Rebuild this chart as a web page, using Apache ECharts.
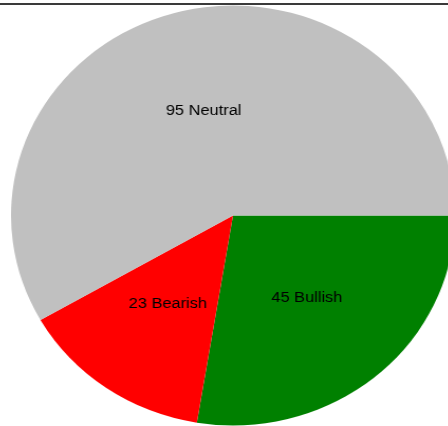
<!DOCTYPE html>
<html>
<head>
<meta charset="utf-8">
<script src="https://cdn.jsdelivr.net/npm/echarts@6/dist/echarts.min.js"></script>
<style>
html,body{margin:0;padding:0;background:#fff;overflow:hidden;}
#wrap{position:relative;width:448px;height:426px;overflow:hidden;}
#chart{position:absolute;left:0;top:0;width:448px;height:426px;transform:scaleX(1.057);transform-origin:233px 0;}
#topline{position:absolute;left:0;top:3px;width:448px;height:2px;background:#3a3a3a;}
</style>
</head>
<body>
<div id="wrap">
<div id="chart"></div>
<div id="topline"></div>
</div>
<script>
const categories = ['Bullish', 'Bearish', 'Neutral'];
const values = [45, 23, 95];
const colors = ['#008000', '#FF0000', '#C0C0C0'];

const chart = echarts.init(document.getElementById('chart'), null, {renderer: 'canvas'});
chart.setOption({
  animation: false,
  series: [{
    type: 'pie',
    center: [233, 215.5],
    radius: 210,
    startAngle: 0,
    clockwise: true,
    avoidLabelOverlap: false,
    data: categories.map((c, i) => ({name: c, value: values[i], itemStyle: {color: colors[i]}})),
    itemStyle: {borderWidth: 0},
    emphasis: {disabled: true},
    label: {
      show: true,
      position: 'inside',
      formatter: '{c} {b}',
      color: '#000',
      fontFamily: 'Liberation Sans, Arial, sans-serif',
      fontSize: 15.5,
      textBorderWidth: 0
    },
    labelLine: {show: false}
  }]
});
</script>
</body>
</html>
